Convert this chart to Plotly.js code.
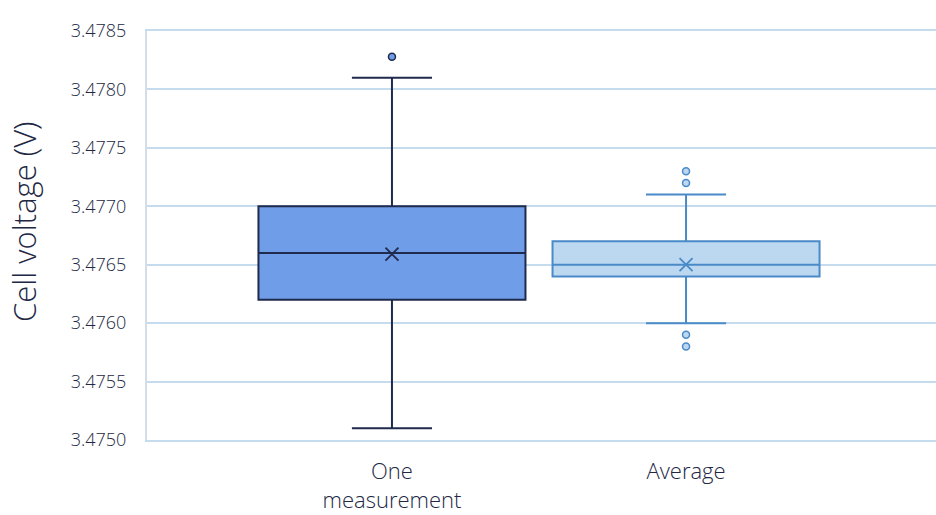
<!DOCTYPE html>
<html>
<head>
<meta charset="utf-8">
<script src="https://cdn.plot.ly/plotly-3.0.1.min.js"></script>
<style>html,body{margin:0;padding:0;background:#fff;}#chart{width:936px;height:515px;}</style>
</head>
<body>
<div id="chart"></div>
<script>
const categories = ['One measurement', 'Average'];
const tickLabels = ['One<br>measurement', 'Average'];
const yTitle = 'Cell voltage (V)';
const q1 = [3.4762, 3.4764];
const median = [3.4766, 3.4765];
const q3 = [3.4770, 3.4767];
const lowerFence = [3.4751, 3.4760];
const upperFence = [3.4781, 3.4771];
const means = [3.47659, 3.47650];
const outliersOne = [3.47828];
const outliersAvg = [3.4773, 3.4772, 3.4759, 3.4758];
const yTicks = [3.4750, 3.4755, 3.4760, 3.4765, 3.4770, 3.4775, 3.4780, 3.4785];

const fills = ['#6f9de8', '#bcd8f0'];
const lines = ['#1f2a4d', '#4a8ac8'];
const outlierSets = [outliersOne, outliersAvg];
const W = 350;

const traces = [];
categories.forEach((c, i) => {
  traces.push({
    type: 'box', name: c, x: [i],
    q1: [q1[i]], median: [median[i]], q3: [q3[i]],
    lowerfence: [lowerFence[i]], upperfence: [upperFence[i]],
    width: 0.908, whiskerwidth: 0.3,
    fillcolor: fills[i], line: {color: lines[i], width: 2},
    boxpoints: false, hoverinfo: 'skip'
  });
  traces.push({
    type: 'scatter', mode: 'markers', x: outlierSets[i].map(() => i), y: outlierSets[i],
    marker: {symbol: 'circle', size: 7, color: fills[i], line: {color: lines[i], width: 1.5}},
    hoverinfo: 'skip'
  });
  traces.push({
    type: 'scatter', mode: 'markers', x: [i], y: [means[i]],
    marker: {symbol: 'x-thin-open', size: 13, color: lines[i], line: {color: lines[i], width: 1.8}},
    hoverinfo: 'skip'
  });
});

const layout = {
  width: 936, height: 515,
  margin: {l: 147, r: 0, t: 31, b: 75},
  showlegend: false,
  paper_bgcolor: '#ffffff', plot_bgcolor: '#ffffff',
  font: {family: 'Open Sans, sans-serif', color: '#222744', weight: W},
  xaxis: {
    range: [-0.833, 1.85], tickvals: [0, 1], ticktext: tickLabels,
    showgrid: false, zeroline: false,
    showline: true, linecolor: '#c5dcef', linewidth: 2, mirror: true,
    ticks: 'outside', ticklen: 11, tickcolor: 'rgba(0,0,0,0)',
    tickfont: {size: 22, color: '#222744', weight: W}
  },
  yaxis: {
    range: [3.4750, 3.4785], tickvals: yTicks, tickformat: '.4f',
    showgrid: true, gridcolor: '#c5dcef', gridwidth: 2, zeroline: false,
    showline: true, linecolor: '#d5dde8', linewidth: 2,
    ticks: 'outside', ticklen: 15, tickcolor: 'rgba(0,0,0,0)',
    tickfont: {size: 18, color: '#222744', weight: W}
  },
  annotations: [{
    text: yTitle, textangle: -90, showarrow: false,
    xref: 'paper', yref: 'paper', x: 0, y: 0.533, xanchor: 'center', yanchor: 'middle',
    xshift: -123,
    font: {size: 31, color: '#222744', weight: W}
  }]
};

Plotly.newPlot('chart', traces, layout, {displayModeBar: false, staticPlot: true});
</script>
</body>
</html>
